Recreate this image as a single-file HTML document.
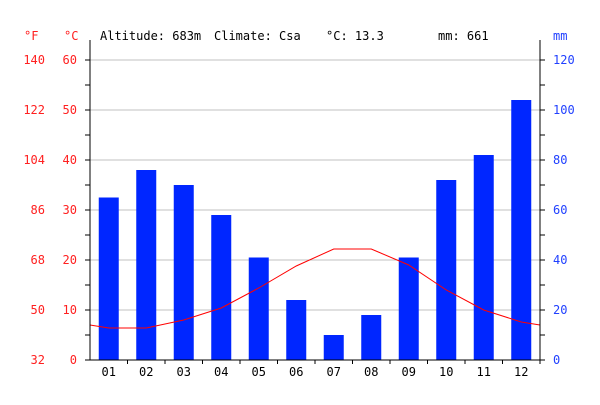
<!DOCTYPE html>
<html><head><meta charset="utf-8"><style>
body{margin:0;background:#fff}
svg text{font-family:"DejaVu Sans Mono","Liberation Mono",monospace;font-size:12px}
</style></head><body>
<svg id="c" width="600" height="400" xmlns="http://www.w3.org/2000/svg"></svg>
<script>
const months=["01","02","03","04","05","06","07","08","09","10","11","12"];
const precip=[65,76,70,58,41,24,10,18,41,72,82,104];
const temp=[6.4,6.4,8,10.4,14.4,18.8,22.2,22.2,19,14,10,7.6];
const cTicks=[0,10,20,30,40,50,60];
const fTicks=[32,50,68,86,104,122,140];
const mmTicks=[0,20,40,60,80,100,120];
const NS="http://www.w3.org/2000/svg";
const svg=document.getElementById('c');
const L=90,R=540,T=60,B=360;
const colW=(R-L)/months.length;
const yC=v=>B-(v/60)*(B-T);
const yMM=v=>B-(v/120)*(B-T);
const xM=i=>L+colW*(i+0.5);
function mk(tag,attrs,txt){const e=document.createElementNS(NS,tag);for(const k in attrs)e.setAttribute(k,attrs[k]);if(txt!==undefined)e.textContent=txt;svg.appendChild(e);return e;}
// gridlines and left labels
cTicks.forEach((c,i)=>{
 const y=yC(c);
 if(c>0){const g=mk('line',{x1:L,x2:R,y1:y,y2:y,stroke:'#c0c0c0'});
 
 }
 const t=mk('text',{x:77,y:y+4,'text-anchor':'end',fill:'#ff2020'},String(c));
 
 
 const f=mk('text',{x:45,y:y+4,'text-anchor':'end',fill:'#ff2020'},String(fTicks[i]));
 
 
 const m=mk('text',{x:553,y:yMM(mmTicks[i])+4,fill:'#2040ff'},String(mmTicks[i]));
 
 
});
// minor ticks
for(let c=0;c<=60;c+=5){const y=yC(c);
 const a=mk('line',{x1:L-5,x2:L,y1:y,y2:y,stroke:'#000'});
 
 
 const b=mk('line',{x1:R,x2:R+5,y1:y,y2:y,stroke:'#000'});
 
 }
// bars
precip.forEach((p,i)=>{
 const r=mk('rect',{x:xM(i)-10,y:yMM(p),width:20,height:B-yMM(p),fill:'#0026ff'});
 
 
 const t=mk('text',{x:xM(i),y:376,'text-anchor':'middle',fill:'#000'},months[i]);
 
 
 const k=mk('line',{x1:L+colW*(i+1),x2:L+colW*(i+1),y1:B,y2:B+4,stroke:'#000'});
 
 
});
// temp line with edge extensions
let pts=[[L,yC((temp[0]+temp[11])/2)]];
temp.forEach((t,i)=>pts.push([xM(i),yC(t)]));
pts.push([R,yC((temp[0]+temp[11])/2)]);
const pl=mk('polyline',{points:pts.map(p=>p.join(',')).join(' '),fill:'none',stroke:'#ff0000','stroke-width':1});


// axes
const ax1=mk('line',{x1:L,x2:L,y1:40,y2:B,stroke:'#000'});


const ax2=mk('line',{x1:R,x2:R,y1:40,y2:B,stroke:'#000'});


const ax3=mk('line',{x1:L,x2:R,y1:B,y2:B,stroke:'#000'});


// header
const h=[["°F",24,'#ff2020','fahrenheit-unit'],["°C",64,'#ff2020','celsius-unit'],["Altitude: 683m",100,'#000','altitude-label'],["Climate: Csa",214,'#000','climate-label'],["°C: 13.3",326,'#000','mean-temp-label'],["mm: 661",438,'#000','total-precip-label'],["mm",553,'#2040ff','mm-unit']];
h.forEach(d=>{const t=mk('text',{x:d[1],y:40,fill:d[2]},d[0]);
 
 });
</script>
</body></html>
